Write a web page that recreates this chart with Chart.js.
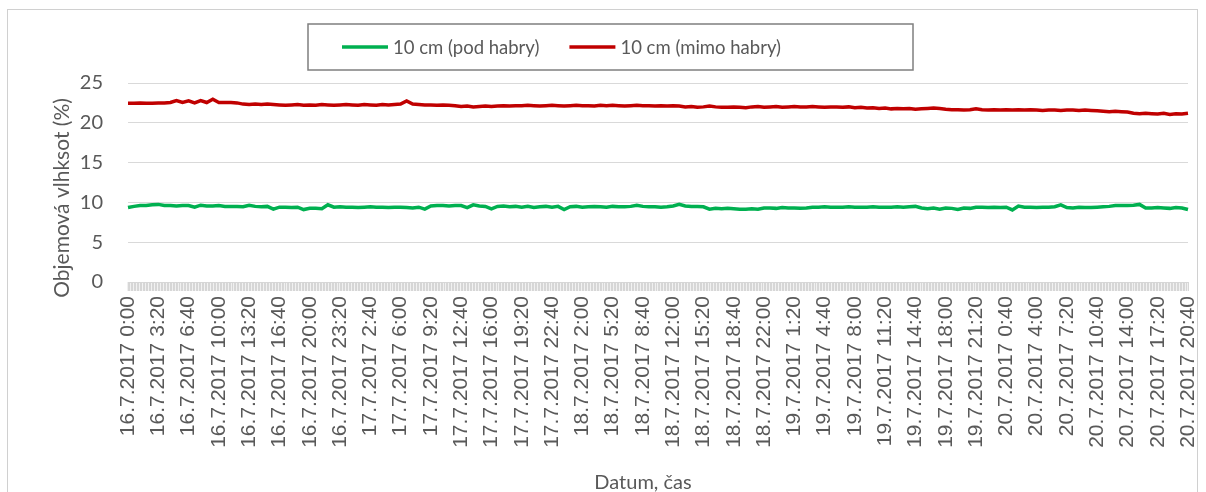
<!DOCTYPE html>
<html>
<head>
<meta charset="utf-8">
<script src="https://cdn.jsdelivr.net/npm/chart.js@4"></script>
<style>
  body { margin: 0; background: #fff; }
  #wrap { position: absolute; left: 7px; top: 9px; width: 1189px; height: 490px; border: 1px solid #d0d0d0; }
</style>
</head>
<body>
<div id="wrap"><canvas id="moistureChart"></canvas></div>
<script>
// categories: one every 10 minutes, 16.7.2017 0:00 .. 20.7.2017 20:40
const labels = [];
for (let i = 0; i <= 700; i++) {
  const t = i * 10;
  const day = 16 + Math.floor(t / 1440);
  const h = Math.floor((t % 1440) / 60);
  const m = t % 60;
  labels.push(day + '.7.2017 ' + h + ':' + String(m).padStart(2, '0'));
}

// values every 40 minutes (every 4th category)
const STEP = 4;

const podHabry = [
  9.35, 9.5, 9.6, 9.6, 9.7, 9.75, 9.6, 9.6, 9.55, 9.6,
  9.6, 9.4, 9.65, 9.55, 9.55, 9.6, 9.5, 9.5, 9.5, 9.45,
  9.65, 9.5, 9.45, 9.5, 9.15, 9.4, 9.4, 9.35, 9.4, 9.1,
  9.25, 9.25, 9.2, 9.7, 9.4, 9.45, 9.4, 9.4, 9.35, 9.4,
  9.45, 9.4, 9.4, 9.35, 9.4, 9.4, 9.35, 9.3, 9.4, 9.15,
  9.55, 9.6, 9.6, 9.55, 9.6, 9.6, 9.35, 9.7, 9.55, 9.5,
  9.2, 9.5, 9.55, 9.45, 9.5, 9.4, 9.5, 9.35, 9.45, 9.5,
  9.4, 9.5, 9.1, 9.45, 9.5, 9.4, 9.45, 9.5, 9.45, 9.4,
  9.5, 9.45, 9.45, 9.5, 9.65, 9.5, 9.45, 9.45, 9.4, 9.45,
  9.55, 9.75, 9.55, 9.5, 9.5, 9.45, 9.15, 9.25, 9.2, 9.25,
  9.2, 9.15, 9.15, 9.2, 9.15, 9.3, 9.3, 9.25, 9.35, 9.3,
  9.3, 9.25, 9.3, 9.4, 9.4, 9.45, 9.4, 9.4, 9.4, 9.45,
  9.4, 9.4, 9.4, 9.45, 9.4, 9.4, 9.4, 9.45, 9.4, 9.45,
  9.5, 9.3, 9.2, 9.3, 9.15, 9.3, 9.25, 9.1, 9.3, 9.25,
  9.4, 9.4, 9.35, 9.4, 9.35, 9.4, 9.05, 9.55, 9.4, 9.4,
  9.35, 9.4, 9.4, 9.45, 9.7, 9.35, 9.3, 9.4, 9.35, 9.35,
  9.4, 9.45, 9.5, 9.6, 9.6, 9.6, 9.65, 9.75, 9.3, 9.3,
  9.35, 9.3, 9.25, 9.35, 9.3, 9.1
];

const mimoHabry = [
  22.45, 22.45, 22.5, 22.45, 22.45, 22.5, 22.5, 22.55, 22.8, 22.55,
  22.75, 22.5, 22.8, 22.55, 22.95, 22.55, 22.55, 22.55, 22.5, 22.35,
  22.3, 22.35, 22.3, 22.35, 22.3, 22.25, 22.2, 22.25, 22.3, 22.2,
  22.25, 22.2, 22.3, 22.25, 22.2, 22.25, 22.3, 22.25, 22.2, 22.3,
  22.25, 22.2, 22.3, 22.25, 22.3, 22.35, 22.75, 22.35, 22.3, 22.25,
  22.25, 22.2, 22.25, 22.2, 22.15, 22.05, 22.1, 22.0, 22.05, 22.1,
  22.05, 22.1, 22.15, 22.1, 22.15, 22.15, 22.2, 22.15, 22.1, 22.15,
  22.2, 22.15, 22.1, 22.15, 22.2, 22.15, 22.15, 22.1, 22.2, 22.15,
  22.2, 22.15, 22.1, 22.15, 22.2, 22.15, 22.15, 22.1, 22.15, 22.1,
  22.15, 22.1, 22.0, 22.05, 21.95, 22.0, 22.1, 22.0, 21.95, 21.95,
  22.0, 21.95, 21.9, 22.0, 22.05, 21.95, 22.0, 22.05, 21.95, 22.0,
  22.05, 22.0, 22.0, 22.05, 22.0, 21.95, 22.0, 22.0, 21.95, 22.0,
  21.9, 21.95, 21.85, 21.9, 21.8, 21.85, 21.75, 21.8, 21.75, 21.8,
  21.7, 21.75, 21.8, 21.85, 21.8, 21.7, 21.65, 21.65, 21.6, 21.65,
  21.75, 21.65, 21.6, 21.65, 21.6, 21.65, 21.6, 21.65, 21.6, 21.65,
  21.6, 21.55, 21.6, 21.6, 21.55, 21.6, 21.6, 21.55, 21.6, 21.55,
  21.5, 21.45, 21.4, 21.45, 21.4, 21.35, 21.2, 21.15, 21.2, 21.15,
  21.1, 21.2, 21.05, 21.15, 21.1, 21.2
];

const yTicks = [0, 5, 10, 15, 20, 25];

const toPoints = vals => vals.map((v, k) => ({ x: labels[k * STEP], y: v }));

const TEXT = '#595959';

// Excel-style legend in a framed box, axis titles, and the dense category tick marks
const excelDecor = {
  id: 'excelDecor',
  beforeDatasetsDraw(chart) {
    const ctx = chart.ctx;
    const xs = chart.scales.x;
    const bottom = chart.chartArea.bottom;
    ctx.save();
    ctx.strokeStyle = '#d4d4d4';
    ctx.lineWidth = 0.7;
    ctx.beginPath();
    for (let i = 0; i < labels.length; i++) {
      const px = xs.getPixelForValue(i);
      ctx.moveTo(px, bottom);
      ctx.lineTo(px, bottom + 9);
    }
    ctx.stroke();
    ctx.restore();
  },
  afterDraw(chart) {
    const ctx = chart.ctx;
    ctx.save();
    ctx.strokeStyle = '#7f7f7f';
    ctx.lineWidth = 1.5;
    ctx.strokeRect(300, 14, 605, 46);
    ctx.font = '18.5px Lato';
    ctx.fillStyle = TEXT;
    ctx.textBaseline = 'middle';
    let x = 334;
    chart.data.datasets.forEach(ds => {
      ctx.strokeStyle = ds.borderColor;
      ctx.lineWidth = 3.5;
      ctx.beginPath();
      ctx.moveTo(x, 37);
      ctx.lineTo(x + 46, 37);
      ctx.stroke();
      ctx.fillText(ds.label, x + 51, 38);
      x += 51 + ctx.measureText(ds.label).width + 30;
    });

    ctx.font = '20px Lato';
    ctx.textAlign = 'center';
    ctx.fillText('Datum, čas', 635, 473);
    ctx.font = '21px Lato';
    ctx.translate(54, 188);
    ctx.rotate(-Math.PI / 2);
    ctx.fillText('Objemová vlhksot (%)', 0, 0);
    ctx.restore();
  }
};

new Chart(document.getElementById('moistureChart'), {
  type: 'line',
  data: {
    labels: labels,
    datasets: [
      { label: '10 cm (pod habry)', data: toPoints(podHabry), borderColor: '#00b050', backgroundColor: '#00b050', borderWidth: 3.5, pointRadius: 0, tension: 0 },
      { label: '10 cm (mimo habry)', data: toPoints(mimoHabry), borderColor: '#c00000', backgroundColor: '#c00000', borderWidth: 3.5, pointRadius: 0, tension: 0 }
    ]
  },
  options: {
    responsive: true,
    maintainAspectRatio: false,
    animation: false,
    layout: { padding: { top: 73, left: 0, right: 9, bottom: 0 } },
    plugins: {
      legend: { display: false },
      tooltip: { enabled: false }
    },
    scales: {
      x: {
        type: 'category',
        offset: false,
        afterFit: s => { s.height = 218; s.paddingLeft = 0; s.paddingRight = 0; },
        grid: { drawOnChartArea: false, drawTicks: true, tickLength: 9, color: '#d9d9d9' },
        border: { display: true, color: '#d9d9d9' },
        ticks: {
          autoSkip: false,
          maxRotation: 90,
          minRotation: 90,
          padding: 5,
          color: TEXT,
          font: { family: 'Liberation Sans', size: 21 },
          callback: function (v, i) { return i % 20 === 0 ? this.getLabelForValue(v) : ''; }
        }
      },
      y: {
        min: 0,
        max: 25,
        afterFit: s => { s.width = 120; },
        afterBuildTicks: axis => { axis.ticks = yTicks.map(v => ({ value: v })); },
        grid: { color: '#d9d9d9', drawTicks: false },
        border: { display: false },
        ticks: { padding: 25, color: TEXT, font: { family: 'Lato', size: 20 } }
      }
    }
  },
  plugins: [excelDecor]
});
</script>
</body>
</html>
